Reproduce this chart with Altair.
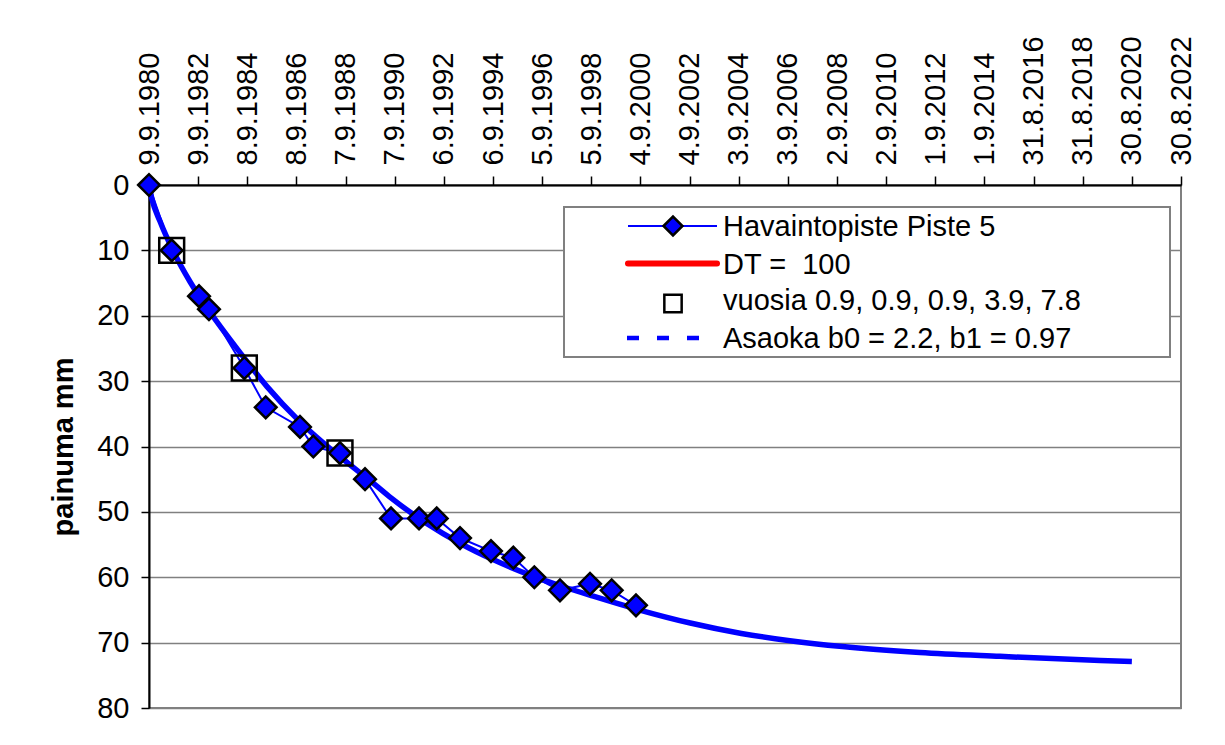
import altair as alt
import pandas as pd

# ---- data ----
# x = days since 9.9.1980, y = settlement (painuma) in mm
obs_days = [0, 337, 743, 891, 1416, 1734, 2243, 2441, 2837, 3209, 3595,
            4011, 4274, 4620, 5080, 5412, 5724, 6105, 6551, 6873, 7234]
obs_mm = [0, 10, 17, 19, 28, 34, 37, 40, 41, 45, 51,
          51, 51, 54, 56, 57, 60, 62, 61, 62, 64.3]

# observations marked with squares (vuosia 0.9, 0.9, 0.9, 3.9, 7.8)
square_idx = [1, 4, 8]

# Asaoka / DT fitted curve
fit_days = [0, 40, 165, 360, 610, 890, 1350, 1750, 2240, 2840, 3330, 3600,
            4130, 4620, 5110, 5720, 6110, 6600, 7250, 8040, 8800, 9520,
            10300, 11450, 12640, 14130, 14600]
fit_mm = [0, 2.0, 5.6, 10.1, 14.8, 19.2, 25.6, 30.8, 36.2, 41.6, 45.6, 47.9,
          51.8, 54.8, 57.3, 59.9, 61.3, 62.9, 64.9, 67.0, 68.6, 69.7,
          70.6, 71.5, 72.1, 72.75, 72.9]

tick_days = [i * 730 for i in range(22)]
tick_labels = ["9.9.1980", "9.9.1982", "8.9.1984", "8.9.1986", "7.9.1988",
               "7.9.1990", "6.9.1992", "6.9.1994", "5.9.1996", "5.9.1998",
               "4.9.2000", "4.9.2002", "3.9.2004", "3.9.2006", "2.9.2008",
               "2.9.2010", "1.9.2012", "1.9.2014", "31.8.2016", "31.8.2018",
               "30.8.2020", "30.8.2022"]
y_ticks = [0, 10, 20, 30, 40, 50, 60, 70, 80]

legend_labels = ["Havaintopiste Piste 5", "DT =\u00a0 100",
                 "vuosia 0.9, 0.9, 0.9, 3.9, 7.8",
                 "Asaoka b0 = 2.2, b1 = 0.97"]

# ---- tables ----
obs = pd.DataFrame({"d": obs_days, "v": obs_mm})
sq = obs.iloc[square_idx].reset_index(drop=True)
fit = pd.DataFrame({"d": fit_days, "v": fit_mm})

BLUE = "#0000FF"
FS = 29
W, H = 1032, 523

label_expr = "[" + ",".join("'%s'" % s for s in tick_labels) + "][round(datum.value / 730)]"

x_enc = alt.X("d:Q",
              scale=alt.Scale(domain=[0, tick_days[-1]], nice=False, zero=False),
              axis=alt.Axis(orient="top", values=tick_days, labelExpr=label_expr,
                            labelAngle=270, labelAlign="left", labelBaseline="middle",
                            labelFontSize=FS, labelPadding=11, tickSize=9,
                            labelOverlap=False, labelFlush=False, labelBound=False,
                            grid=False, title=None, domainColor="#000000",
                            domainWidth=2, tickColor="#000000", tickWidth=1.5,
                            labelColor="#000000"))
y_enc = alt.Y("v:Q",
              scale=alt.Scale(domain=[0, 80], reverse=True, nice=False),
              axis=alt.Axis(values=y_ticks, grid=True, gridColor="#808080",
                            gridWidth=1.5, tickSize=8, labelPadding=12,
                            labelFontSize=FS, labelColor="#000000",
                            title="painuma mm", titleFontSize=FS,
                            titleFontWeight="bold", titlePadding=18,
                            titleColor="#000000", domainColor="#000000",
                            domainWidth=2, tickColor="#000000", tickWidth=1.5))

curve = alt.Chart(fit).mark_line(color=BLUE, strokeWidth=5.5, interpolate="monotone").encode(x=x_enc, y=y_enc)
obs_line = alt.Chart(obs).mark_line(color=BLUE, strokeWidth=2).encode(x=x_enc, y=y_enc)
obs_pts = alt.Chart(obs).mark_point(shape="diamond", filled=True, fill=BLUE,
                                    stroke="#000000", strokeWidth=2.5, size=470,
                                    opacity=1).encode(x=x_enc, y=y_enc)
sq_pts = alt.Chart(sq).mark_point(shape="square", filled=False, stroke="#000000",
                                  strokeWidth=2.5, size=620, opacity=1).encode(x=x_enc, y=y_enc)

# ---- legend (inside the plot, upper right) ----
one = alt.Data(values=[{}])
LX0, LX1, LY0, LY1 = 415, 1021, 22, 172
row_mid = [41, 78.5, 115.5, 153]
row_base = [51, 89, 125, 163]
sym_x0, sym_x1, sym_c, txt_x = 479, 568, 524, 574

legend_layers = [
    alt.Chart(one).mark_rect(fill="white", stroke="#808080", strokeWidth=2).encode(
        x=alt.value(LX0), x2=alt.value(LX1), y=alt.value(LY0), y2=alt.value(LY1)),
    alt.Chart(one).mark_rule(color=BLUE, strokeWidth=2).encode(
        x=alt.value(sym_x0), x2=alt.value(sym_x1), y=alt.value(row_mid[0])),
    alt.Chart(one).mark_point(shape="diamond", filled=True, fill=BLUE, stroke="#000000",
                              strokeWidth=2.5, size=360, opacity=1).encode(
        x=alt.value(sym_c), y=alt.value(row_mid[0])),
    alt.Chart(one).mark_rule(color="#FF0000", strokeWidth=6, strokeCap="round").encode(
        x=alt.value(sym_x0), x2=alt.value(sym_x1), y=alt.value(row_mid[1])),
    alt.Chart(one).mark_point(shape="square", filled=False, stroke="#000000",
                              strokeWidth=2.5, size=300, opacity=1).encode(
        x=alt.value(sym_c), y=alt.value(row_mid[2] + 3)),
    alt.Chart(one).mark_rule(color=BLUE, strokeWidth=4.5, strokeDash=[12, 18]).encode(
        x=alt.value(sym_x0 - 1), x2=alt.value(sym_x1 - 12), y=alt.value(row_mid[3])),
]
for lab, yb in zip(legend_labels, row_base):
    legend_layers.append(
        alt.Chart(one).mark_text(text=lab, align="left", baseline="alphabetic",
                                 fontSize=FS, color="#000000").encode(
            x=alt.value(txt_x), y=alt.value(yb)))

chart = alt.layer(curve, obs_line, obs_pts, sq_pts, *legend_layers).properties(
    width=W, height=H,
    autosize=alt.AutoSizeParams(type="none"),
    padding={"left": 141, "top": 177, "right": 28, "bottom": 20},
    background="white",
).configure(font="Liberation Sans").configure_view(stroke="#808080", strokeWidth=2)

chart.save("out.html", embed_options={"renderer": "svg", "actions": False})
